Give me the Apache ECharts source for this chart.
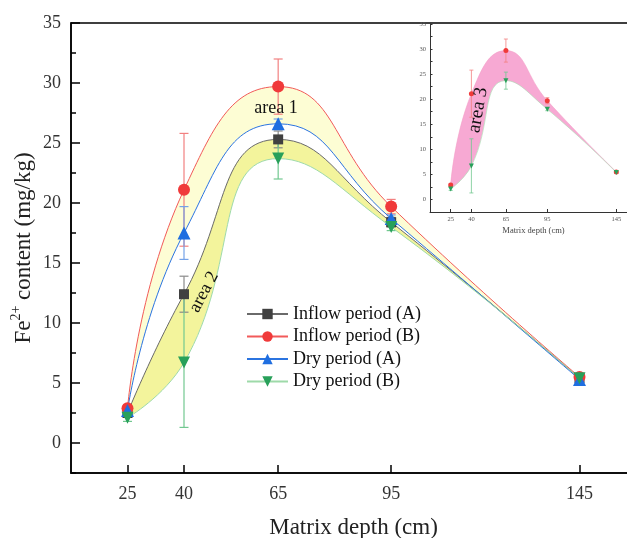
<!DOCTYPE html>
<html><head><meta charset="utf-8">
<script src="https://cdn.jsdelivr.net/npm/echarts@6/dist/echarts.min.js"></script>
<style>html,body{margin:0;padding:0;background:#fff}#c{width:627px;height:538px}</style>
</head><body><div id="c"></div>
<script>
const depths = [25, 40, 65, 95, 145];
const inflowA = [2.5, 12.4, 25.3, 18.4, 5.4];
const inflowAErr = [0.3, 1.5, 0.7, 0.4, 0.2];
const inflowB = [2.9, 21.1, 29.7, 19.7, 5.5];
const inflowBErr = [0.3, 4.7, 2.3, 0.6, 0.2];
const dryA = [2.7, 17.5, 26.6, 18.7, 5.3];
const dryAErr = [0.3, 2.2, 0.4, 0.3, 0.2];
const dryB = [2.1, 6.7, 23.7, 18.0, 5.4];
const dryBErr = [0.3, 5.4, 1.7, 0.3, 0.2];
const xTicks = [25, 40, 65, 95, 145];
const yTicks = [0, 5, 10, 15, 20, 25, 30, 35];
const seriesNames = ['Inflow period (A)', 'Inflow period (B)', 'Dry period (A)', 'Dry period (B)'];
const areaLabels = ['area 1', 'area 2', 'area 3'];

const SERIF = '"Liberation Serif","Times New Roman",serif';
const SM = 0.5;

function pts(vals) { return depths.map((d, i) => [d, vals[i]]); }

function lineSeries(name, vals, markerColor, lineColor, lw, symbol, size, rot, xi, yi) {
  return {
    type: 'line', name: name, xAxisIndex: xi, yAxisIndex: yi, data: pts(vals),
    smooth: SM, symbol: symbol, symbolSize: size, symbolRotate: rot, showSymbol: true,
    itemStyle: { color: markerColor }, lineStyle: { color: lineColor, width: lw }, z: 7
  };
}
function errSeries(vals, errs, color, capW, lw, xi, yi) {
  return {
    type: 'custom', xAxisIndex: xi, yAxisIndex: yi, silent: true, z: 6,
    data: depths.map((d, i) => [d, vals[i] - errs[i], vals[i] + errs[i]]),
    encode: { x: 0, y: [1, 2] },
    renderItem: function (params, api) {
      const x = api.value(0);
      const lo = api.coord([x, api.value(1)]);
      const hi = api.coord([x, api.value(2)]);
      const st = { stroke: color, lineWidth: lw };
      return { type: 'group', children: [
        { type: 'line', shape: { x1: lo[0], y1: lo[1], x2: hi[0], y2: hi[1] }, style: st },
        { type: 'line', shape: { x1: lo[0] - capW / 2, y1: lo[1], x2: lo[0] + capW / 2, y2: lo[1] }, style: st },
        { type: 'line', shape: { x1: hi[0] - capW / 2, y1: hi[1], x2: hi[0] + capW / 2, y2: hi[1] }, style: st }
      ] };
    }
  };
}
// band between two curves: lower curve stacked with an invisible area, difference filled on top.
// data are given as [value, depth] so that the value dimension is the one that is stacked.
function bandSeries(lower, upper, color, stackId, xi, yi) {
  return [
    { type: 'line', stack: stackId, xAxisIndex: xi, yAxisIndex: yi,
      data: depths.map((d, i) => [lower[i], d]), encode: { x: 1, y: 0 }, smooth: SM,
      symbol: 'none', lineStyle: { width: 0, opacity: 0 }, silent: true, z: 1 },
    { type: 'line', stack: stackId, xAxisIndex: xi, yAxisIndex: yi,
      data: depths.map((d, i) => [upper[i] - lower[i], d]), encode: { x: 1, y: 0 }, smooth: SM,
      symbol: 'none', lineStyle: { width: 0, opacity: 0 },
      areaStyle: { color: color, opacity: 1 }, silent: true, z: 1 }
  ];
}

const C = {
  aM: '#404040', aL: '#6a6a6a', aE: '#8a8a8a',
  bM: '#f03a3a', bL: '#f25a5a', bE: '#f28080',
  cM: '#1f6ee0', cL: '#2b74e0', cE: '#74a2e8',
  dM: '#28a05a', dL: '#9edaa9', dE: '#72c890'
};

const chart = echarts.init(document.getElementById('c'), null, { renderer: 'canvas' });
chart.setOption({
  animation: false,
  backgroundColor: '#fff',
  textStyle: { fontFamily: SERIF },
  grid: [
    { left: 71, top: 23, width: 565, height: 450, show: true, borderColor: '#000', borderWidth: 1.5,
      backgroundColor: 'transparent', outerBoundsMode: 'none', containLabel: false },
    { left: 430, top: 24, width: 207, height: 188, show: false, outerBoundsMode: 'none', containLabel: false }
  ],
  xAxis: [
    { type: 'value', gridIndex: 0, min: 10, max: 160, z: 8,
      axisLine: { onZero: false, lineStyle: { color: '#000', width: 1.5 } },
      axisTick: { inside: true, length: 8, customValues: xTicks, lineStyle: { color: '#000', width: 1.5 } },
      axisLabel: { customValues: xTicks, fontSize: 18, color: '#333', margin: 12, fontFamily: SERIF },
      splitLine: { show: false },
      name: 'Matrix depth (cm)', nameLocation: 'middle', nameGap: 43,
      nameTextStyle: { fontSize: 23, color: '#222', fontFamily: SERIF } },
    { type: 'value', gridIndex: 1, min: 10, max: 160, z: 8,
      axisLine: { onZero: false, lineStyle: { color: '#333', width: 1 } },
      axisTick: { inside: true, length: 3, customValues: xTicks, lineStyle: { color: '#333', width: 1 } },
      axisLabel: { customValues: xTicks, fontSize: 6.5, color: '#555', margin: 4, fontFamily: SERIF },
      splitLine: { show: false },
      name: 'Matrix depth (cm)', nameLocation: 'middle', nameGap: 14,
      nameTextStyle: { fontSize: 8.5, color: '#444', fontFamily: SERIF } }
  ],
  yAxis: [
    { type: 'value', gridIndex: 0, min: -2.5, max: 35, interval: 2.5, position: 'left', z: 8,
      axisLine: { show: true, onZero: false, lineStyle: { color: '#000', width: 1.5 } },
      axisTick: { inside: true, length: 5, lineStyle: { color: '#000', width: 1.5 } },
      axisLabel: { customValues: yTicks, fontSize: 18, color: '#333', margin: 10, fontFamily: SERIF },
      splitLine: { show: false },
      name: 'Fe{sup|2+} content (mg/kg)', nameLocation: 'middle', nameGap: 32, nameRotate: 90,
      nameMoveOverlap: false,
      nameTextStyle: { fontSize: 23, color: '#222', fontFamily: SERIF, lineHeight: 30,
        rich: { sup: { fontSize: 14, lineHeight: 14, verticalAlign: 'top', color: '#222', fontFamily: SERIF } } } },
    { type: 'value', gridIndex: 0, min: -2.5, max: 35, position: 'left', offset: 0, z: 8,
      axisLine: { show: false, onZero: false },
      axisTick: { inside: true, length: 9, customValues: yTicks, lineStyle: { color: '#000', width: 1.5 } },
      axisLabel: { show: false }, splitLine: { show: false } },
    { type: 'value', gridIndex: 1, min: -2.5, max: 35, interval: 2.5, position: 'left', z: 8,
      axisLine: { show: true, onZero: false, lineStyle: { color: '#333', width: 1 } },
      axisTick: { inside: true, length: 2.5, lineStyle: { color: '#333', width: 1 } },
      axisLabel: { customValues: yTicks, fontSize: 6.5, color: '#555', margin: 4, fontFamily: SERIF },
      splitLine: { show: false } }
  ],
  legend: {
    data: seriesNames, orient: 'vertical', left: 241, top: 300, z: 10,
    itemWidth: 41, itemHeight: 13, itemGap: 4.5,
    textStyle: { fontSize: 18, color: '#111', fontFamily: SERIF }
  },
  graphic: [
    { type: 'text', x: 276, y: 108, z: 10, style: { text: areaLabels[0], font: '18px ' + SERIF, fill: '#111', align: 'center', verticalAlign: 'middle' } },
    { type: 'text', x: 204, y: 292, z: 10, rotation: 62 * Math.PI / 180, style: { text: areaLabels[1], font: '18px ' + SERIF, fill: '#111', align: 'center', verticalAlign: 'middle' } },
    { type: 'text', x: 478, y: 110, z: 10, rotation: 80 * Math.PI / 180, style: { text: areaLabels[2], font: '19px ' + SERIF, fill: '#111', align: 'center', verticalAlign: 'middle' } }
  ],
  series: [].concat(
    bandSeries(dryA, inflowB, '#fdfdd4', 'band1', 0, 0),
    bandSeries(dryB, inflowA, '#f3f49c', 'band2', 0, 0),
    bandSeries(dryB, inflowB, '#f7a9d3', 'band3', 1, 2),
    [
      errSeries(inflowA, inflowAErr, C.aE, 9, 1.2, 0, 0),
      errSeries(inflowB, inflowBErr, C.bE, 9, 1.2, 0, 0),
      errSeries(dryA, dryAErr, C.cE, 9, 1.2, 0, 0),
      errSeries(dryB, dryBErr, C.dE, 9, 1.2, 0, 0),
      lineSeries(seriesNames[0], inflowA, C.aM, C.aL, 1, 'rect', 10, 0, 0, 0),
      lineSeries(seriesNames[1], inflowB, C.bM, C.bL, 1, 'circle', 12, 0, 0, 0),
      lineSeries(seriesNames[2], dryA, C.cM, C.cL, 1, 'triangle', 13, 0, 0, 0),
      lineSeries(seriesNames[3], dryB, C.dM, C.dL, 1, 'triangle', 12, 180, 0, 0),
      errSeries(inflowB, inflowBErr, C.bE, 4, 0.8, 1, 2),
      errSeries(dryB, dryBErr, C.dE, 4, 0.8, 1, 2),
      lineSeries('inset B', inflowB, C.bM, '#f4a0c8', 0.6, 'circle', 5, 0, 1, 2),
      lineSeries('inset D', dryB, C.dM, '#a8e0b4', 0.6, 'triangle', 5, 180, 1, 2)
    ]
  )
});
</script>
</body></html>
